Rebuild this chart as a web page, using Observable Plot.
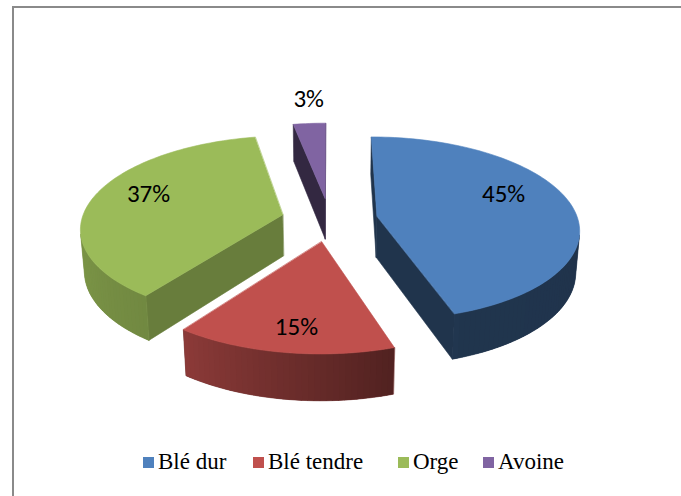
<!DOCTYPE html>
<html><head><meta charset="utf-8">
<script src="https://cdn.jsdelivr.net/npm/d3@7"></script>
<script src="https://cdn.jsdelivr.net/npm/@observablehq/plot@0.6"></script>
<style>
body{margin:0;background:#fff;}
#wrap{position:relative;width:681px;height:496px;overflow:hidden;background:#fff;}
#frame{position:absolute;left:12px;top:6px;width:800px;height:600px;border-left:2px solid #8a8a8a;border-top:2px solid #8a8a8a;box-sizing:border-box;}
#chart{position:absolute;left:0;top:0;}
#legend{position:absolute;left:0;top:449px;width:681px;height:26px;line-height:26px;color:#000;white-space:nowrap;font-family:"Liberation Serif","Times New Roman",serif;font-size:23px;}
#legend .item{position:absolute;top:0;display:inline-flex;align-items:center;}
#legend .sw{display:inline-block;width:11px;height:11px;margin-right:4px;}
</style>
</head><body>
<div id="wrap"><div id="frame"></div><div id="chart"></div><div id="legend"></div></div>
<script>
// ---- data ----
const categories = ["Blé dur", "Blé tendre", "Orge", "Avoine"];
const shares = [45, 15, 37, 3];
const labels = ["45%", "15%", "37%", "3%"];
const colors = ["#4F81BD", "#C0504D", "#9BBB59", "#8064A2"];

// ---- 3D pie model (layout) ----
const W = 681, H = 496;
const CX = 329, CY = 219, K = 201;
const sinP = 0.451, cosP = Math.sqrt(1 - sinP * sinP), D = 6.66;
const EXPLODE = 0.24, DEPTH = 0.234;
const labelAngleShift = [-12, -1.4, 6.1, 1.1];
const labelRadius = [0.71, 0.79, 0.74, 1.38];
const legendStarts = [143, 253, 398, 483];
const rad = a => a * Math.PI / 180;
const cam = [0, D * sinP, D * cosP];

function project(p) {
  const [X, Y, Z] = p;
  const u = X, v = Y * cosP - Z * sinP, w = Y * sinP + Z * cosP;
  const s = D / (D - w);
  return [u * s, v * s];
}
function visible(n, p) {
  return n[0] * (cam[0] - p[0]) + n[1] * (cam[1] - p[1]) + n[2] * (cam[2] - p[2]) > 0;
}
const dirv = a => [Math.sin(rad(a)), 0, -Math.cos(rad(a))];
const wallShade = d3.scaleLinear().domain([90, 160, 216, 270]).range([0.40, 0.41, 0.73, 0.82]).clamp(true);
const cutShade = d3.scaleLinear().domain([90, 126, 252]).range([0.45, 0.67, 0.40]).clamp(true);
function shade(hex, f) {
  const c = d3.rgb(hex);
  return d3.rgb(c.r * f, c.g * f, c.b * f).formatHex();
}
const norm = a => ((a % 360) + 360) % 360;

const total = d3.sum(shares);
let cum = 0;
const slices = shares.map((v, i) => {
  const t0 = cum / total * 360;
  cum += v;
  const t1 = cum / total * 360;
  const mid = (t0 + t1) / 2;
  const c = [EXPLODE * Math.sin(rad(mid)), 0, -EXPLODE * Math.cos(rad(mid))];
  return {i, t0, t1, mid, c, depth: c[2] * cosP};
});

const rim = (s, a, Y) => [s.c[0] + Math.sin(rad(a)), Y, s.c[2] - Math.cos(rad(a))];

const order = [...slices].sort((a, b) => a.depth - b.depth);
const layers = [];
for (const s of order) {
  const base = colors[s.i];
  const apT = [s.c[0], 0, s.c[2]], apB = [s.c[0], -DEPTH, s.c[2]];
  const faces = [];
  // cut faces
  for (const [a, na] of [[s.t0, s.t0 - 90], [s.t1, s.t1 + 90]]) {
    const n = dirv(na);
    const pm = [(apT[0] + rim(s, a, 0)[0]) / 2, -DEPTH / 2, (apT[2] + rim(s, a, 0)[2]) / 2];
    if (visible(n, pm)) faces.push({pts: [apT, rim(s, a, 0), rim(s, a, -DEPTH), apB], color: shade(base, cutShade(norm(na))), stroke: true});
  }
  // outer wall
  const n = Math.max(2, Math.ceil((s.t1 - s.t0) / 1.5));
  const segs = [];
  for (let k = 0; k < n; k++) {
    const a0 = s.t0 + (s.t1 - s.t0) * k / n, a1 = s.t0 + (s.t1 - s.t0) * (k + 1) / n;
    const am = (a0 + a1) / 2;
    if (visible(dirv(am), rim(s, am, -DEPTH / 2))) segs.push([a0, a1, am]);
  }
  if (segs.length) {
    const aS = segs[0][0], aE = segs[segs.length - 1][1];
    const topArc = [], botArc = [];
    for (const [a0] of segs) { topArc.push(rim(s, a0, 0)); botArc.push(rim(s, a0, -DEPTH)); }
    topArc.push(rim(s, aE, 0)); botArc.push(rim(s, aE, -DEPTH));
    faces.push({pts: [...topArc, ...botArc.reverse()], color: shade(base, wallShade(norm((aS + aE) / 2))), stroke: true});
    for (const [a0, a1, am] of segs) {
      const a1x = a1 < aE ? a1 + 0.3 : a1;
      faces.push({pts: [rim(s, a0, 0), rim(s, a1x, 0), rim(s, a1x, -DEPTH), rim(s, a0, -DEPTH)], color: shade(base, wallShade(norm(am))), stroke: false});
    }
  }
  // top face
  const top = [apT];
  const m = Math.max(2, Math.ceil((s.t1 - s.t0) / 1.5));
  for (let k = 0; k <= m; k++) top.push(rim(s, s.t0 + (s.t1 - s.t0) * k / m, 0));
  faces.push({pts: top, color: base, stroke: true});
  layers.push(faces);
}

const marks = [];
for (const faces of layers) {
  for (const f of faces) {
    const pts = f.pts.map(p => { const [x, y] = project(p); return {x, y}; });
    marks.push(Plot.line(pts, {x: "x", y: "y", fill: f.color, stroke: f.stroke ? f.color : "none", strokeWidth: 0.6, curve: "linear-closed"}));
  }
}

const labelData = slices.map(s => {
  const a = s.mid + labelAngleShift[s.i], r = labelRadius[s.i];
  const [x, y] = project([s.c[0] + r * Math.sin(rad(a)), 0, s.c[2] - r * Math.cos(rad(a))]);
  return {x, y, text: labels[s.i]};
});
marks.push(Plot.text(labelData, {x: "x", y: "y", text: "text", fontFamily: "Carlito, Lato, sans-serif", fontSize: 25, fill: "#000"}));

const chart = Plot.plot({
  width: W, height: H, margin: 0,
  x: {axis: null, domain: [-CX / K, (W - CX) / K], range: [0, W]},
  y: {axis: null, domain: [CY / K, (CY - H) / K], range: [0, H]},
  style: {background: "transparent", overflow: "visible"},
  marks
});
document.getElementById("chart").append(chart);

// legend (HTML over the bottom of the SVG)
const lg = d3.select("#legend");
categories.forEach((name, i) => {
  const item = lg.append("span").attr("class", "item").style("left", legendStarts[i] + "px");
  item.append("span").attr("class", "sw").style("background", colors[i]);
  item.append("span").text(name);
});
</script>
</body></html>
